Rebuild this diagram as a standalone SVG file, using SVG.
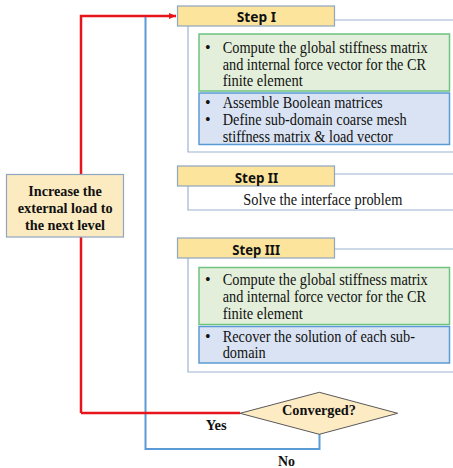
<svg xmlns="http://www.w3.org/2000/svg" width="453" height="468" viewBox="0 0 453 468">
<defs>
<marker id="ah" markerWidth="8" markerHeight="8" refX="7" refY="4" orient="auto" markerUnits="userSpaceOnUse">
<path d="M0,1 L7,4 L0,7 Z" fill="#E8141B"/>
</marker>
<style>
.hdr{fill:#FDE49C;stroke:#8EA6C0;stroke-width:1.2}
.hdrt{font-family:"Noto Sans","Open Sans",sans-serif;font-weight:bold;font-size:15px;fill:#111}
.cont{fill:none;stroke:#9DB4D0;stroke-width:1.2}
.grn{fill:#E3EFDA;stroke:#6FC47F;stroke-width:1.5}
.blu{fill:#DAE3F3;stroke:#5B9BD5;stroke-width:1.5}
.t{font-family:"Liberation Serif","Times New Roman",serif;font-size:16px;fill:#111}
.b{font-family:"Liberation Serif","Times New Roman",serif;font-size:15px;font-weight:bold;fill:#111}
.red{fill:none;stroke:#E8141B;stroke-width:2.5}
.bl{fill:none;stroke:#5B9BD5;stroke-width:2}
</style>
</defs>
<rect width="453" height="468" fill="#fff"/>

<g id="connectors">
<path class="bl" d="M145.5,17 V449 H319.5 V434"/>
<path class="red" d="M81,413 V16 H176" marker-end="url(#ah)"/>
<path class="red" d="M81,413 H240"/>
</g>

<g id="increase">
<rect x="6.5" y="174.5" width="117" height="62.5" fill="#FCEBC1" stroke="#8EA6C0" stroke-width="1.2"/>
<text class="b" x="28.3" y="195.7" textLength="73.4" lengthAdjust="spacingAndGlyphs">Increase the</text>
<text class="b" x="17.7" y="213" textLength="95" lengthAdjust="spacingAndGlyphs">external load to</text>
<text class="b" x="25" y="229.7" textLength="80" lengthAdjust="spacingAndGlyphs">the next level</text>
</g>

<g id="step1">
<path class="cont" d="M188,26 V152 H453 M334,20 H453"/>
<rect class="hdr" x="177.5" y="6" width="157" height="20"/>
<text class="hdrt" x="236.7" y="22" textLength="39.3" lengthAdjust="spacingAndGlyphs">Step I</text>
<rect class="grn" x="199" y="34" width="250.5" height="57"/>
<text class="t" x="205" y="52.5">•</text>
<text class="t" x="222.7" y="52.5" textLength="205" lengthAdjust="spacingAndGlyphs">Compute the global stiffness matrix</text>
<text class="t" x="222.7" y="69.5" textLength="203.3" lengthAdjust="spacingAndGlyphs">and internal force vector for the CR</text>
<text class="t" x="222.7" y="86" textLength="80" lengthAdjust="spacingAndGlyphs">finite element</text>
<rect class="blu" x="199" y="93" width="250.5" height="51.5"/>
<text class="t" x="205" y="108">•</text>
<text class="t" x="222.7" y="108" textLength="160" lengthAdjust="spacingAndGlyphs">Assemble Boolean matrices</text>
<text class="t" x="205" y="124.5">•</text>
<text class="t" x="222.7" y="124.5" textLength="184" lengthAdjust="spacingAndGlyphs">Define sub-domain coarse mesh</text>
<text class="t" x="222.7" y="141.5" textLength="170" lengthAdjust="spacingAndGlyphs">stiffness matrix &amp; load vector</text>
</g>

<g id="step2">
<path class="cont" d="M188,186 V210 H453 M334,174 H453"/>
<rect class="hdr" x="177.5" y="166" width="157" height="20"/>
<text class="hdrt" x="234.7" y="182.5" textLength="43.6" lengthAdjust="spacingAndGlyphs">Step II</text>
<text class="t" x="243.3" y="204.5" textLength="159" lengthAdjust="spacingAndGlyphs">Solve the interface problem</text>
</g>

<g id="step3">
<path class="cont" d="M188,258 V372 H453 M334,249 H453"/>
<rect class="hdr" x="177.5" y="238" width="157" height="20"/>
<text class="hdrt" x="232.3" y="254.5" textLength="47.7" lengthAdjust="spacingAndGlyphs">Step III</text>
<rect class="grn" x="199" y="267.5" width="250.5" height="57"/>
<text class="t" x="205" y="285">•</text>
<text class="t" x="222.7" y="285" textLength="205" lengthAdjust="spacingAndGlyphs">Compute the global stiffness matrix</text>
<text class="t" x="222.7" y="301.5" textLength="203.3" lengthAdjust="spacingAndGlyphs">and internal force vector for the CR</text>
<text class="t" x="222.7" y="318.5" textLength="80" lengthAdjust="spacingAndGlyphs">finite element</text>
<rect class="blu" x="199" y="326.5" width="250.5" height="36.5"/>
<text class="t" x="205" y="341.5">•</text>
<text class="t" x="222.7" y="341.5" textLength="192.3" lengthAdjust="spacingAndGlyphs">Recover the solution of each sub-</text>
<text class="t" x="222.7" y="358" textLength="43" lengthAdjust="spacingAndGlyphs">domain</text>
</g>

<g id="converged">
<path d="M240,413.3 L319.3,392.3 L397.7,413.3 L319.3,434.3 Z" fill="#FDEBC4" stroke="#595959" stroke-width="1"/>
<text class="b" x="282" y="415" textLength="74" lengthAdjust="spacingAndGlyphs">Converged?</text>
</g>

<g id="labels">
<text class="b" x="205.7" y="430" textLength="21" lengthAdjust="spacingAndGlyphs">Yes</text>
<text class="b" x="278" y="465.5" textLength="17" lengthAdjust="spacingAndGlyphs">No</text>
</g>
</svg>
